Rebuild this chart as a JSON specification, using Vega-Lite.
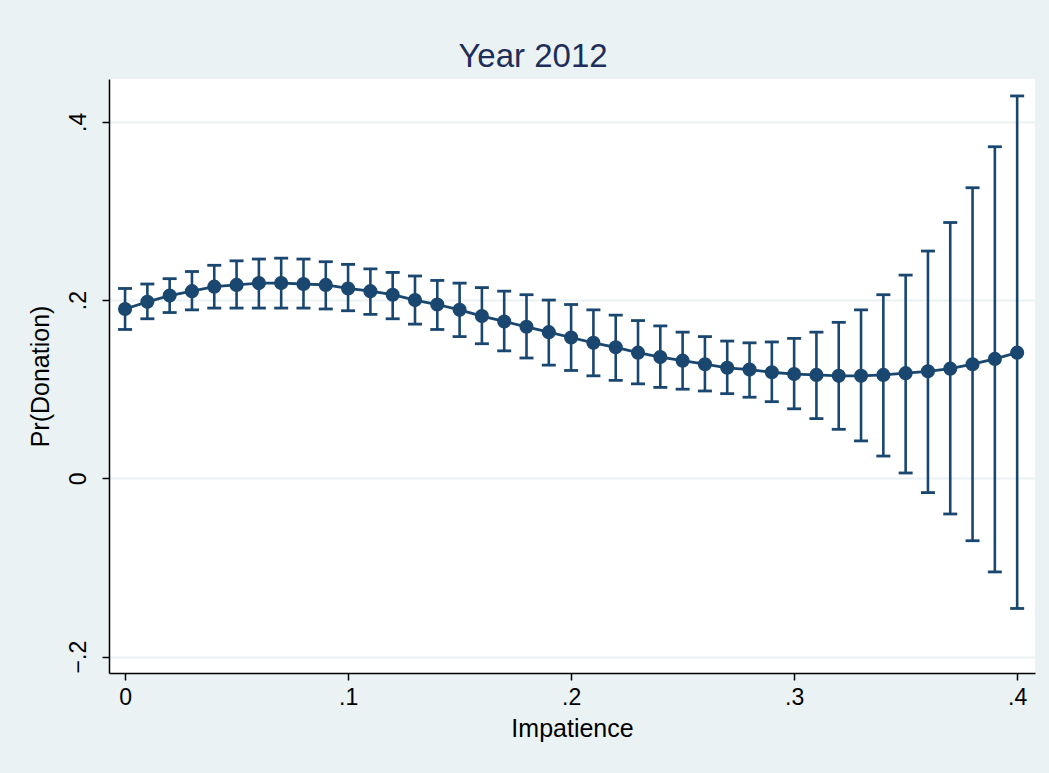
{
  "$schema": "https://vega.github.io/schema/vega-lite/v6.json",
  "width": 926,
  "height": 594,
  "autosize": {"type": "none"},
  "padding": {"left": 109, "top": 79, "right": 14, "bottom": 100},
  "background": "#eaf2f3",
  "title": {
    "text": "Year 2012",
    "font": "Liberation Sans",
    "fontSize": 33,
    "fontWeight": "normal",
    "color": "#1f2d5a",
    "anchor": "middle",
    "dx": -39,
    "dy": 35,
    "offset": 14,
    "baseline": "alphabetic"
  },
  "data": {
    "values": [
      {"x": 0.00, "p": 0.190, "lo": 0.167, "hi": 0.213},
      {"x": 0.01, "p": 0.198, "lo": 0.179, "hi": 0.218},
      {"x": 0.02, "p": 0.205, "lo": 0.186, "hi": 0.224},
      {"x": 0.03, "p": 0.210, "lo": 0.189, "hi": 0.232},
      {"x": 0.04, "p": 0.215, "lo": 0.191, "hi": 0.239},
      {"x": 0.05, "p": 0.217, "lo": 0.191, "hi": 0.244},
      {"x": 0.06, "p": 0.219, "lo": 0.191, "hi": 0.246},
      {"x": 0.07, "p": 0.219, "lo": 0.191, "hi": 0.247},
      {"x": 0.08, "p": 0.218, "lo": 0.191, "hi": 0.246},
      {"x": 0.09, "p": 0.217, "lo": 0.190, "hi": 0.243},
      {"x": 0.10, "p": 0.213, "lo": 0.188, "hi": 0.240},
      {"x": 0.11, "p": 0.210, "lo": 0.184, "hi": 0.235},
      {"x": 0.12, "p": 0.206, "lo": 0.179, "hi": 0.231},
      {"x": 0.13, "p": 0.200, "lo": 0.173, "hi": 0.227},
      {"x": 0.14, "p": 0.195, "lo": 0.167, "hi": 0.222},
      {"x": 0.15, "p": 0.189, "lo": 0.159, "hi": 0.219},
      {"x": 0.16, "p": 0.182, "lo": 0.151, "hi": 0.214},
      {"x": 0.17, "p": 0.176, "lo": 0.143, "hi": 0.210},
      {"x": 0.18, "p": 0.170, "lo": 0.135, "hi": 0.206},
      {"x": 0.19, "p": 0.164, "lo": 0.127, "hi": 0.200},
      {"x": 0.20, "p": 0.158, "lo": 0.121, "hi": 0.195},
      {"x": 0.21, "p": 0.152, "lo": 0.115, "hi": 0.189},
      {"x": 0.22, "p": 0.147, "lo": 0.110, "hi": 0.183},
      {"x": 0.23, "p": 0.141, "lo": 0.106, "hi": 0.177},
      {"x": 0.24, "p": 0.136, "lo": 0.102, "hi": 0.171},
      {"x": 0.25, "p": 0.132, "lo": 0.100, "hi": 0.164},
      {"x": 0.26, "p": 0.128, "lo": 0.098, "hi": 0.159},
      {"x": 0.27, "p": 0.124, "lo": 0.095, "hi": 0.154},
      {"x": 0.28, "p": 0.122, "lo": 0.091, "hi": 0.152},
      {"x": 0.29, "p": 0.119, "lo": 0.086, "hi": 0.153},
      {"x": 0.30, "p": 0.117, "lo": 0.078, "hi": 0.157},
      {"x": 0.31, "p": 0.116, "lo": 0.067, "hi": 0.164},
      {"x": 0.32, "p": 0.115, "lo": 0.055, "hi": 0.175},
      {"x": 0.33, "p": 0.115, "lo": 0.042, "hi": 0.189},
      {"x": 0.34, "p": 0.116, "lo": 0.025, "hi": 0.206},
      {"x": 0.35, "p": 0.118, "lo": 0.006, "hi": 0.228},
      {"x": 0.36, "p": 0.120, "lo": -0.016, "hi": 0.255},
      {"x": 0.37, "p": 0.123, "lo": -0.040, "hi": 0.287},
      {"x": 0.38, "p": 0.128, "lo": -0.070, "hi": 0.326},
      {"x": 0.39, "p": 0.134, "lo": -0.105, "hi": 0.372},
      {"x": 0.40, "p": 0.141, "lo": -0.146, "hi": 0.429}
    ]
  },
  "encoding": {
    "x": {
      "field": "x",
      "type": "quantitative",
      "title": "Impatience",
      "scale": {"domain": [-0.0072, 0.408], "nice": false, "zero": false},
      "axis": {
        "values": [0, 0.1, 0.2, 0.3, 0.4],
        "labelExpr": "datum.value == 0 ? '0' : replace(format(datum.value, '.1f'), '0.', '.')",
        "grid": false,
        "labelPadding": 6,
        "titlePadding": 7
      }
    }
  },
  "layer": [
    {
      "mark": {"type": "rule", "color": "#1a476f", "strokeWidth": 2.6},
      "encoding": {
        "y": {
          "field": "lo",
          "type": "quantitative",
          "title": "Pr(Donation)",
          "scale": {"domain": [-0.2184, 0.448], "nice": false, "zero": false},
          "axis": {
            "values": [-0.2, 0, 0.2, 0.4],
            "labelExpr": "datum.value == 0 ? '0' : replace(format(datum.value, '.1f'), '0.', '.')",
            "labelAngle": -90,
            "labelAlign": "center",
            "labelBaseline": "alphabetic",
            "labelPadding": 17,
            "titlePadding": 14,
            "grid": true
          }
        },
        "y2": {"field": "hi"}
      }
    },
    {
      "mark": {"type": "tick", "orient": "horizontal", "color": "#1a476f", "size": 14, "thickness": 2.8, "opacity": 1},
      "encoding": {"y": {"field": "lo", "type": "quantitative", "title": "Pr(Donation)"}}
    },
    {
      "mark": {"type": "tick", "orient": "horizontal", "color": "#1a476f", "size": 14, "thickness": 2.8, "opacity": 1},
      "encoding": {"y": {"field": "hi", "type": "quantitative", "title": "Pr(Donation)"}}
    },
    {
      "mark": {"type": "line", "color": "#1a476f", "strokeWidth": 2.8},
      "encoding": {"y": {"field": "p", "type": "quantitative", "title": "Pr(Donation)"}}
    },
    {
      "mark": {"type": "point", "filled": true, "color": "#1a476f", "size": 200, "opacity": 1},
      "encoding": {"y": {"field": "p", "type": "quantitative", "title": "Pr(Donation)"}}
    }
  ],
  "config": {
    "view": {"stroke": null, "fill": "#ffffff"},
    "font": "Liberation Sans",
    "axis": {
      "labelFont": "Liberation Sans",
      "titleFont": "Liberation Sans",
      "labelFontSize": 23,
      "titleFontSize": 25,
      "titleFontWeight": "normal",
      "labelColor": "#000000",
      "titleColor": "#000000",
      "domainColor": "#000000",
      "domainWidth": 1.5,
      "tickColor": "#000000",
      "tickWidth": 1.5,
      "tickSize": 7,
      "gridColor": "#eaf2f3",
      "gridWidth": 1.8,
      "labelOverlap": false,
      "labelBound": false
    }
  }
}
